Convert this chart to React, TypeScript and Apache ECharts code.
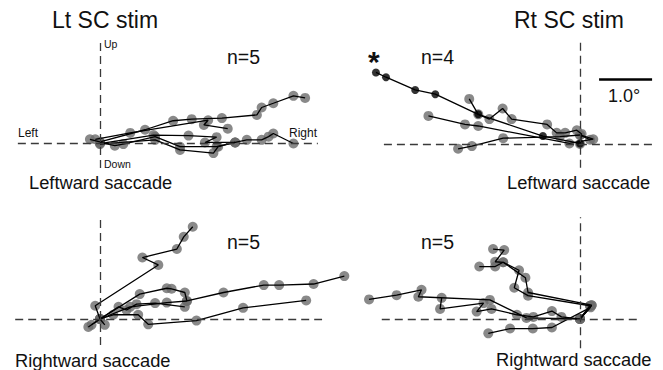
import React, { useEffect, useRef } from "react";
import * as echarts from "echarts";

// scale: pixels per degree (from the 1.0° scale bar)
const PX_PER_DEG = 53;

// ---- Lt SC stim, leftward saccade (n=5), degrees [x, y] ----
const ltLeft1 = [[-0.19, 0.07], [0, 0.02], [0.85, 0.25], [1.38, 0.42], [1.73, 0.45], [2.3, 0.47], [2.96, 0.53], [3.05, 0.67], [3.27, 0.75], [3.65, 0.89], [3.87, 0.85]];
const ltLeft2 = [[-0.09, 0.07], [0.57, 0.19], [2.04, 0.43], [1.96, 0.34], [2.41, 0.27]];
const ltLeft3 = [[0, 0.01], [0.28, -0.05], [0.44, -0.02], [1.04, 0.12], [1.51, -0.07], [2.2, -0.07], [2.55, 0.01], [2.77, 0.06], [3.05, 0.06], [3.18, 0.12], [3.27, 0.18], [3.65, -0.01]];
const ltLeft4 = [[0, -0.01], [1.01, 0.15], [1.67, 0.14], [2.2, 0.11], [1.98, 0.01], [2.55, 0.01]];
const ltLeft5 = [[0, -0.02], [1.04, 0.06], [1.51, -0.13], [2.14, -0.19], [2.23, -0.07], [2.55, 0.01]];

// ---- Rt SC stim, leftward saccade (n=4) ----
const rtLeftStar = [[-3.85, 1.35], [-3.66, 1.26], [-3.11, 1.02], [-2.73, 0.94], [-1.92, 0.56], [-0.7, 0.15], [0, 0.01]];
const rtLeft2 = [[-2.09, 0.85], [-1.92, 0.56], [-1.71, 0.47], [-1.46, 0.67], [-1.29, 0.47], [-0.62, 0.37], [-0.44, 0.21], [-0.28, 0.21], [-0.06, 0.26], [0.03, 0.19], [0, 0]];
const rtLeft3 = [[-2.86, 0.53], [-2.17, 0.37], [-1.92, 0.34], [-0.2, 0.01], [0.25, 0.09], [0, 0.17]];
const rtLeft4 = [[-2.3, -0.09], [-2.04, -0.04], [-1.45, 0.11], [-0.38, 0.14], [0, 0.17], [0.19, 0.08]];

// ---- Lt SC stim, rightward saccade (n=5) ----
const ltRight1 = [[-0.16, -0.11], [0, 0], [-0.09, 0.25], [1.1, 1.02], [0.8, 1.16], [1.45, 1.32], [1.58, 1.55], [1.75, 1.74]];
const ltRight2 = [[0, 0], [0.75, 0.47], [1.26, 0.58], [1.35, 0.57], [1.6, 0.5], [1.64, 0.34], [2.33, 0.5], [3.09, 0.64], [3.38, 0.64], [4.03, 0.66], [4.61, 0.81]];
const ltRight3 = [[0, 0], [0.35, 0.23], [0.5, 0.17], [0.69, 0.28], [1.04, 0.3], [1.6, 0.23]];
const ltRight4 = [[0.09, -0.11], [0, 0], [0.25, 0.08], [0.72, 0.08], [0.91, -0.1], [1.82, -0.03], [2.7, 0.21], [3.89, 0.35]];
const ltRight5 = [[-0.22, -0.15], [0, 0], [0.57, 0.23], [1.26, 0.31], [1.64, 0.34]];

// ---- Rt SC stim, rightward saccade (n=5) ----
const rtRight1 = [[-3.98, 0.37], [-3.46, 0.45], [-2.99, 0.55], [-3.05, 0.42], [-1.7, 0.36], [-1.01, 0.02], [0, 0], [0.19, 0.25]];
const rtRight2 = [[-2.61, 0.4], [-2.64, 0.19], [-1.82, 0.3], [-1.95, 0.14], [-1.67, 0.19], [-1.19, 0.08], [-0.88, 0.04], [-0.53, 0.15], [-0.35, 0.04], [0, 0], [0.22, 0.26]];
const rtRight3 = [[-1.64, 1.32], [-1.43, 1.3], [-1.6, 1.08], [-1.45, 1.07], [-1.15, 0.92], [-1.24, 0.59], [-0.98, 0.44], [0.19, 0.25], [0, 0]];
const rtRight4 = [[-1.9, 0.99], [-1.6, 0.99], [-1.45, 1.07], [-1.03, 0.78], [-0.98, 0.5], [0.22, 0.26], [0, 0]];
const rtRight5 = [[-1.73, -0.27], [-1.32, -0.18], [-0.89, -0.18], [-0.53, -0.16], [0.2, 0.22], [0, 0]];

// scale bar (degrees, in the Rt SC leftward panel)
const scaleBarStart = [0.36, 1.23];
const scaleBarLength = 1.0;

const FONT = "'Liberation Sans', Arial, Helvetica, sans-serif";

type Panel = {
  ox: number; oy: number; // pixel position of origin
  xExt: [number, number]; yExt: [number, number]; // axis extent, degrees
  xDash: [number, number]; yDash: [number, number]; // dashed reference line extents
  gray: number[][][];
  black?: number[][][];
};

const panels: Panel[] = [
  { ox: 100, oy: 143, xExt: [-1.8, 4.5], yExt: [-0.6, 2.1], xDash: [-1.55, 4.11], yDash: [-0.47, 1.92], gray: [ltLeft1, ltLeft2, ltLeft3, ltLeft4, ltLeft5] },
  { ox: 580, oy: 144, xExt: [-4.2, 1.5], yExt: [-0.6, 2.1], xDash: [-3.7, 1.42], yDash: [-0.45, 1.94], gray: [rtLeft2, rtLeft3, rtLeft4], black: [rtLeftStar] },
  { ox: 100, oy: 319, xExt: [-1.8, 4.8], yExt: [-0.6, 2.1], xDash: [-1.6, 4.19], yDash: [-0.49, 1.92], gray: [ltRight1, ltRight2, ltRight3, ltRight4, ltRight5] },
  { ox: 580, oy: 319, xExt: [-4.2, 1.5], yExt: [-0.6, 2.1], xDash: [-3.74, 1.09], yDash: [-0.55, 1.92], gray: [rtRight1, rtRight2, rtRight3, rtRight4, rtRight5] },
];

function txt(text: string, x: number, y: number, size: number, extra: any = {}) {
  return {
    type: "text",
    x,
    y,
    style: {
      text,
      fontSize: size,
      fontFamily: FONT,
      fill: "#111",
      textVerticalAlign: "middle",
      textAlign: "left",
      ...extra,
    },
  };
}

export default function App() {
  const ref = useRef<HTMLDivElement>(null);
  useEffect(() => {
    if (!ref.current) return;
    const chart = echarts.init(ref.current, undefined, { renderer: "svg" });
    const grid: any[] = [];
    const xAxis: any[] = [];
    const yAxis: any[] = [];
    const series: any[] = [];
    panels.forEach((p, i) => {
      grid.push({
        left: p.ox + p.xExt[0] * PX_PER_DEG,
        top: p.oy - p.yExt[1] * PX_PER_DEG,
        width: (p.xExt[1] - p.xExt[0]) * PX_PER_DEG,
        height: (p.yExt[1] - p.yExt[0]) * PX_PER_DEG,
      });
      const ax = {
        type: "value",
        gridIndex: i,
        axisLine: { show: false },
        axisTick: { show: false },
        axisLabel: { show: false },
        splitLine: { show: false },
      };
      xAxis.push({ ...ax, min: p.xExt[0], max: p.xExt[1] });
      yAxis.push({ ...ax, min: p.yExt[0], max: p.yExt[1] });
      // dashed reference axes through the origin
      series.push({
        type: "line", xAxisIndex: i, yAxisIndex: i, data: [], symbol: "none", z: 1,
        markLine: {
          silent: true, symbol: ["none", "none"], label: { show: false },
          lineStyle: { color: "#3a3a3a", width: 1.3, type: [8, 5] },
          data: [
            [{ coord: [p.xDash[0], 0] }, { coord: [p.xDash[1], 0] }],
            [{ coord: [0, p.yDash[0]] }, { coord: [0, p.yDash[1]] }],
          ],
        },
      });
      p.gray.forEach((tr) => {
        series.push({
          type: "scatter", xAxisIndex: i, yAxisIndex: i, data: tr,
          symbolSize: 10, itemStyle: { color: "#6b6b6b" }, z: 2, silent: true,
        });
        series.push({
          type: "line", xAxisIndex: i, yAxisIndex: i, data: tr, symbol: "none",
          lineStyle: { color: "#000", width: 1.3 }, z: 3, silent: true,
        });
      });
      (p.black || []).forEach((tr) => {
        series.push({
          type: "line", xAxisIndex: i, yAxisIndex: i, data: tr, symbol: "none",
          lineStyle: { color: "#000", width: 1.3 }, z: 3, silent: true,
        });
        series.push({
          type: "scatter", xAxisIndex: i, yAxisIndex: i, data: tr,
          symbolSize: 8, itemStyle: { color: "#000" }, z: 4, silent: true,
        });
      });
      if (i === 1) {
        series.push({
          type: "line", xAxisIndex: i, yAxisIndex: i, data: [], symbol: "none",
          markLine: {
            silent: true, symbol: ["none", "none"], label: { show: false },
            lineStyle: { color: "#000", width: 2.5, type: "solid" },
            data: [[{ coord: scaleBarStart }, { coord: [scaleBarStart[0] + scaleBarLength, scaleBarStart[1]] }]],
          },
        });
      }
    });

    chart.setOption({
      animation: false,
      backgroundColor: "#fff",
      grid, xAxis, yAxis, series,
      graphic: [
        txt("Lt SC stim", 52, 20, 23),
        txt("Rt SC stim", 514, 20, 23),
        txt("n=5", 227, 57, 19.5),
        txt("n=4", 421, 57, 19.5),
        txt("*", 368, 61, 30, { fontWeight: "bold" }),
        txt("Up", 104, 44, 10.5),
        txt("Down", 104, 164, 10.5),
        txt("Left", 18, 133, 12),
        txt("Right", 289, 133, 12),
        txt("Leftward saccade", 29, 182, 18.3),
        txt("Leftward saccade", 507, 182, 18.3),
        txt("1.0°", 608, 96, 18),
        txt("n=5", 227, 242, 19.5),
        txt("Rightward saccade", 15, 360, 18.3),
        txt("n=5", 421, 242, 19.5),
        txt("Rightward saccade", 496, 359, 18.3),
      ],
    });
    return () => chart.dispose();
  }, []);
  return (
    <div
      ref={ref}
      style={{ position: "fixed", left: 0, top: 0, width: 663, height: 370, background: "#fff" }}
    />
  );
}
